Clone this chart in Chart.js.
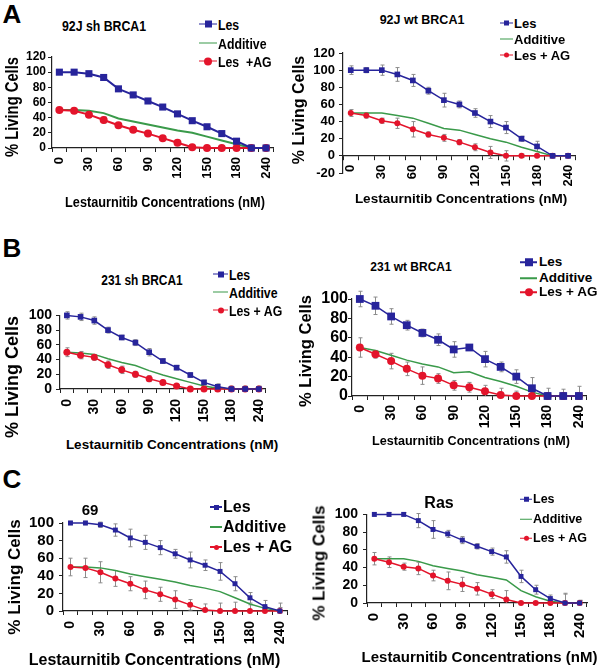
<!DOCTYPE html>
<html>
<head>
<meta charset="utf-8">
<script src="https://cdn.jsdelivr.net/npm/chart.js@4.4.1/dist/chart.umd.min.js"></script>
<style>
  html, body { margin: 0; padding: 0; background: #fff; }
  #fig { position: relative; width: 600px; height: 669px; overflow: hidden; }
  #fig canvas { position: absolute; }
  .t { position: absolute; white-space: pre; font-weight: bold; color: #000; line-height: 1; transform: translate(-50%, -50%); }
  .t.n { transform: translate(-50%, -50%) scaleX(0.82); }
  .yt { transform: translate(-50%, -50%) rotate(-90deg); }
  .yt.n { transform: translate(-50%, -50%) rotate(-90deg) scaleX(0.82); }
  .lg { position: absolute; white-space: pre; font-weight: bold; color: #000; line-height: 1; transform: translateY(-50%); display: flex; align-items: center; }
  .lg .n { display: inline-block; transform: scaleX(0.82); transform-origin: 0 50%; }
</style>
</head>
<body>
<div id="fig"></div>
<script>
// Lestaurnitib dose response, 6 panels (A: 92J, B: 231, C: 69 / Ras)

const conc = [0, 15, 30, 45, 60, 75, 90, 105, 120, 135, 150, 165, 180, 210, 240];
const concTicks = [0, 30, 60, 90, 120, 150, 180, 240];

// A - 92J sh BRCA1
const a1Les    = [100, 100, 98, 93, 78, 70, 62, 54, 45, 36, 28, 19, 9, 0, 0];
const a1LesErr = [3, 2, 2, 3, 2, 2, 2, 2, 2, 2, 2, 2, 2, 1, 1];
const a1Ag     = [50, 49, 44, 37, 30, 24, 19, 13, 7, 1, 0, 0, 0, 0, 0];
const a1AgErr  = [2, 2, 2, 4, 2, 2, 2, 2, 2, 1, 1, 1, 1, 1, 1];
const a1Add    = [50, 50, 49, 46, 39, 35, 31, 27, 23, 20, 15, 10, 5, 0, 0];

// A - 92J wt BRCA1
const a2Les    = [100, 100, 100, 95, 88, 76, 65, 60, 50, 40, 33, 20, 11, 0, 0];
const a2LesErr = [5, 3, 6, 8, 7, 4, 8, 4, 5, 7, 7, 3, 6, 1, 1];
const a2Ag     = [50, 47, 41, 38, 31, 25, 21, 16, 10, 4, 0, 0, 0, 0, 0];
const a2AgErr  = [4, 3, 3, 6, 9, 3, 4, 3, 4, 7, 6, 2, 2, 1, 1];
const a2Add    = [50, 50, 50, 47, 44, 38, 32, 30, 25, 20, 16, 10, 5, 0, 0];

// B - 231 sh BRCA1
const b1Les    = [100, 98, 93, 80, 70, 63, 50, 38, 29, 19, 9, 3, 0, 0, 0];
const b1LesErr = [5, 5, 5, 4, 3, 4, 5, 3, 3, 3, 3, 4, 4, 4, 4];
const b1Ag     = [50, 46, 43, 33, 26, 20, 14, 9, 4, 0, 0, 0, 0, 0, 0];
const b1AgErr  = [6, 5, 4, 5, 5, 4, 4, 3, 2, 1, 1, 1, 1, 1, 1];
const b1Add    = [50, 49, 47, 41, 36, 32, 25, 19, 14, 9, 4, 1, 0, 0, 0];

// B - 231 wt BRCA1
const b2Les    = [100, 93, 82, 73, 65, 58, 48, 50, 38, 30, 20, 8, 0, 0, 0];
const b2LesErr = [8, 9, 8, 5, 4, 6, 8, 2, 8, 5, 7, 11, 8, 7, 10];
const b2Ag     = [50, 43, 36, 28, 21, 18, 11, 9, 5, 1, 0, 0, 0, 0, 0];
const b2AgErr  = [10, 4, 8, 7, 9, 5, 5, 5, 6, 7, 5, 4, 1, 1, 1];
const b2Add    = [50, 47, 42, 37, 33, 30, 24, 25, 19, 15, 10, 4, 0, 0, 0];

// C - 69
const c1Les    = [100, 100, 98, 92, 83, 78, 72, 65, 58, 52, 45, 31, 15, 5, 0];
const c1LesErr = [2, 2, 3, 7, 10, 8, 8, 5, 9, 6, 10, 8, 6, 7, 9];
const c1Ag     = [50, 49, 44, 37, 31, 24, 19, 13, 7, 1, 0, 0, 0, 0, 0];
const c1AgErr  = [10, 11, 12, 9, 8, 10, 8, 10, 6, 7, 9, 10, 7, 5, 4];
const c1Add    = [50, 50, 49, 46, 42, 39, 36, 33, 29, 26, 22, 15, 8, 3, 0];

// C - Ras
const c2Les    = [100, 100, 100, 93, 83, 78, 71, 64, 58, 52, 30, 15, 5, 0, 0];
const c2LesErr = [2, 2, 2, 8, 10, 4, 4, 3, 4, 7, 7, 5, 4, 10, 3];
const c2Ag     = [50, 46, 41, 39, 31, 25, 21, 16, 10, 4, 0, 0, 0, 0, 0];
const c2AgErr  = [7, 6, 4, 7, 6, 10, 8, 7, 5, 10, 1, 1, 3, 11, 3];
const c2Add    = [50, 50, 50, 47, 42, 39, 36, 32, 29, 26, 14, 7, 2, 0, 0];

const BLUE = '#27249b';
const RED = '#e3142b';
const GREEN = '#3a9a4a';
const SANS = '"Liberation Sans", Arial, sans-serif';

const fig = document.getElementById('fig');

// gray error bars, drawn under the lines
const errorBars = {
  id: 'errorBars',
  beforeDatasetsDraw(chart) {
    const { ctx, chartArea: a, scales: { y } } = chart;
    ctx.save();
    ctx.beginPath();
    ctx.rect(a.left, a.top - 20, a.right - a.left, a.bottom - a.top + 20);
    ctx.clip();
    ctx.strokeStyle = '#8c8c8c';
    ctx.lineWidth = 1;
    chart.data.datasets.forEach((d, i) => {
      if (!d.errors) return;
      chart.getDatasetMeta(i).data.forEach((pt, j) => {
        const e = d.errors[j];
        if (!e) return;
        const x = Math.round(pt.x) + 0.5;
        const y0 = y.getPixelForValue(d.data[j] - e);
        const y1 = y.getPixelForValue(d.data[j] + e);
        ctx.beginPath();
        ctx.moveTo(x, y0); ctx.lineTo(x, y1);
        ctx.moveTo(x - 2, y0); ctx.lineTo(x + 2, y0);
        ctx.moveTo(x - 2, y1); ctx.lineTo(x + 2, y1);
        ctx.stroke();
      });
    });
    ctx.restore();
  }
};

function marked(label, data, errors, color, style, r, lw) {
  return {
    label, data, errors,
    borderColor: color, backgroundColor: color, borderWidth: lw,
    pointStyle: style, pointRadius: r, pointBorderWidth: 0,
    pointBackgroundColor: color, tension: 0, clip: false,
  };
}

function makePanel(p) {
  const [L, T, R, B] = p.area;
  const W = 48, H = 48, padT = 12, padR = 10;
  const left = L - W, top = T - padT;
  const width = R + padR - left, height = B + H - top;
  const cv = document.createElement('canvas');
  cv.width = width; cv.height = height;
  cv.style.left = left + 'px'; cv.style.top = top + 'px';
  cv.style.width = width + 'px'; cv.style.height = height + 'px';
  fig.appendChild(cv);

  new Chart(cv, {
    type: 'line',
    data: {
      labels: conc,
      datasets: [
        marked('Les', p.les, p.lesErr, BLUE, 'rect', p.lesR, p.lw),
        marked('Les + AG', p.ag, p.agErr, RED, 'circle', p.agR, p.lw),
        { label: 'Additive', data: p.add, borderColor: GREEN, borderWidth: p.lw,
          pointRadius: 0, tension: 0, clip: false },
      ],
    },
    options: {
      responsive: false,
      animation: false,
      events: [],
      layout: { padding: { top: padT, right: padR, bottom: p.zeroAxis ? H : 0, left: 0 } },
      plugins: { legend: { display: false }, tooltip: { enabled: false } },
      scales: {
        x: {
          position: p.zeroAxis ? { y: 0 } : 'bottom',
          offset: true,
          afterFit: (s) => { s.height = H; },
          border: { color: '#222', width: 1.2 },
          grid: { drawOnChartArea: false, offset: true, tickLength: 4, color: '#222' },
          ticks: {
            autoSkip: false, maxRotation: 90, minRotation: 90,
            padding: p.xPad, color: '#000',
            font: { family: SANS, size: p.xTick, weight: 'bold' },
            callback(v) {
              const c = this.getLabelForValue(v);
              return concTicks.includes(c) ? String(c) : '';
            },
          },
        },
        y: {
          min: p.yMin, max: p.yMax,
          afterFit: (s) => { s.width = W; },
          border: { color: '#222', width: 1.2 },
          grid: { drawOnChartArea: false, tickLength: 4, color: '#222' },
          ticks: {
            stepSize: 20, autoSkip: false, padding: p.yPad, color: '#000',
            font: { family: SANS, size: p.yTick, weight: 'bold' },
          },
        },
      },
    },
    plugins: [errorBars],
  });
}

const panels = [
  { area: [52, 57, 277, 148], yMin: 0, yMax: 120, zeroAxis: false,
    les: a1Les, lesErr: a1LesErr, ag: a1Ag, agErr: a1AgErr, add: a1Add,
    yTick: 12, xTick: 13, yPad: 2, xPad: 5, lesR: 5, agR: 4, lw: 2 },
  { area: [343, 53, 579, 173], yMin: -20, yMax: 120, zeroAxis: true,
    les: a2Les, lesErr: a2LesErr, ag: a2Ag, agErr: a2AgErr, add: a2Add,
    yTick: 13, xTick: 13, yPad: 4, xPad: 5, lesR: 4, agR: 3, lw: 1.5 },
  { area: [60, 315, 272, 389], yMin: 0, yMax: 100, zeroAxis: false,
    les: b1Les, lesErr: b1LesErr, ag: b1Ag, agErr: b1AgErr, add: b1Add,
    yTick: 14, xTick: 14, yPad: 4, xPad: 6, lesR: 4, agR: 3.5, lw: 1.5 },
  { area: [352, 299, 591, 396], yMin: 0, yMax: 100, zeroAxis: false,
    les: b2Les, lesErr: b2LesErr, ag: b2Ag, agErr: b2AgErr, add: b2Add,
    yTick: 16, xTick: 14, yPad: 0, xPad: 5, lesR: 5.5, agR: 4, lw: 1.5 },
  { area: [63, 521, 293, 611], yMin: 0, yMax: 100, zeroAxis: false,
    les: c1Les, lesErr: c1LesErr, ag: c1Ag, agErr: c1AgErr, add: c1Add,
    yTick: 15, xTick: 14, yPad: 5, xPad: 6, lesR: 3.5, agR: 3, lw: 1.5 },
  { area: [367, 513, 594, 603], yMin: 0, yMax: 100, zeroAxis: false,
    les: c2Les, lesErr: c2LesErr, ag: c2Ag, agErr: c2AgErr, add: c2Add,
    yTick: 14, xTick: 15, yPad: 5, xPad: 6, lesR: 3.5, agR: 3, lw: 1.5 },
];
panels.forEach(makePanel);

// texts laid over the canvases; cls 'n' squeezes the text like a narrow face
function text(str, x, y, size, cls) {
  const d = document.createElement('div');
  d.className = 't' + (cls ? ' ' + cls : '');
  d.textContent = str;
  d.style.left = x + 'px';
  d.style.top = y + 'px';
  d.style.fontFamily = SANS;
  d.style.fontSize = size + 'px';
  fig.appendChild(d);
}

text('A', 12, 14, 26);
text('B', 12, 248, 26);
text('C', 12, 479, 26);

text('92J sh BRCA1', 103.5, 25, 15, 'n');
text('92J wt BRCA1', 422, 20, 12.5);
text('231 sh BRCA1', 141.5, 280, 14.5, 'n');
text('231 wt BRCA1', 411, 267, 12);
text('69', 90, 509, 15);
text('Ras', 439, 503, 16);

const xTitle = 'Lestaurnitib Concentrations (nM)';
text(xTitle, 165, 202, 15.5, 'n');
text(xTitle, 461, 199, 13.5);
text(xTitle, 172, 445, 13.5);
text(xTitle, 471, 441, 12.6);
text(xTitle, 154.5, 660, 16);
text(xTitle, 479.5, 656, 15);

const yTitle = '% Living Cells';
text(yTitle, 12, 107, 18, 'yt n');
text(yTitle, 299, 110, 16, 'yt');
text(yTitle, 12, 377, 18, 'yt');
text(yTitle, 305, 351, 16.5, 'yt');
text(yTitle, 14, 577, 17, 'yt');
text(yTitle, 319, 563, 17, 'yt');

// legends
function legend(x, rows, len, gap, size, sq, circ, agLabel, narrow) {
  const items = [
    ['Les', BLUE, 'rect', sq],
    ['Additive', GREEN, null, 0],
    [agLabel, RED, 'circle', circ],
  ];
  items.forEach(([label, color, shape, s], i) => {
    const row = document.createElement('div');
    row.className = 'lg';
    row.style.left = x + 'px';
    row.style.top = rows[i] + 'px';
    row.style.fontFamily = SANS;
    row.style.fontSize = size + 'px';
    const mk = document.createElement('span');
    mk.style.cssText = `position:relative;display:inline-block;width:${len}px;height:${Math.max(s, 4)}px;margin-right:${gap}px`;
    const ln = document.createElement('span');
    ln.style.cssText = `position:absolute;left:0;right:0;top:50%;height:1.5px;margin-top:-0.75px;background:${color}`;
    mk.appendChild(ln);
    if (shape) {
      const sh = document.createElement('span');
      sh.style.cssText = `position:absolute;left:50%;top:50%;width:${s}px;height:${s}px;margin:${-s / 2}px 0 0 ${-s / 2}px;background:${color};border-radius:${shape === 'circle' ? '50%' : '0'}`;
      mk.appendChild(sh);
    }
    const tx = document.createElement('span');
    if (narrow) tx.className = 'n';
    tx.textContent = label;
    row.appendChild(mk);
    row.appendChild(tx);
    fig.appendChild(row);
  });
}

legend(199, [24, 43, 61], 18, 1, 15, 7, 8, 'Les  +AG', true);
legend(500, [23, 39, 55], 13, 1, 13, 5, 5, 'Les + AG', false);
legend(213, [274, 292, 310], 15, 1, 15, 6, 6, 'Les + AG', true);
legend(520, [262, 278, 292], 17, 2, 13.5, 8, 8, 'Les + AG', false);
legend(210, [507, 527, 547], 12, 1, 16, 5, 5, 'Les + AG', false);
legend(520, [499, 519, 538], 12, 1, 12.5, 5, 5, 'Les + AG', false);
</script>
</body>
</html>
